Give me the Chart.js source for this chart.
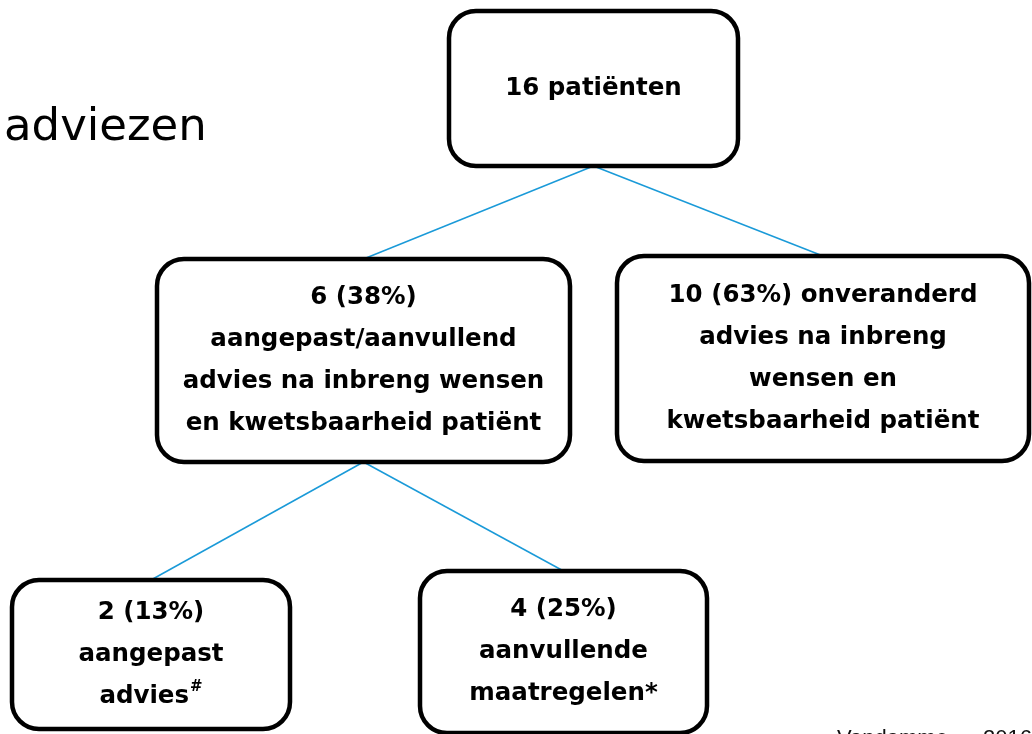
<!DOCTYPE html>
<html>
<head>
<meta charset="utf-8">
<script src="https://cdn.jsdelivr.net/npm/chart.js@4.4.0/dist/chart.umd.min.js"></script>
<style>
  html, body { margin: 0; padding: 0; background: #fff; overflow: hidden; }
  canvas { display: block; }
</style>
</head>
<body>
<canvas id="flowChart" width="1032" height="734"></canvas>
<script>
// flow data: patients per step
const nodeCounts = [16, 6, 10, 2, 4];
const nodeShares = [null, 38, 63, 13, 25];
const nodeHeadSuffix = ['patiënten', '', 'onveranderd', '', ''];
const nodeCaptions = [
  [],
  ['aangepast/aanvullend', 'advies na inbreng wensen', 'en kwetsbaarheid patiënt'],
  ['advies na inbreng', 'wensen en', 'kwetsbaarheid patiënt'],
  ['aangepast', 'advies^#'],
  ['aanvullende', 'maatregelen*']
];
const parentOf = [null, 0, 0, 1, 1];

const titleText = 'adviezen';
const sourceName = 'Vandamme';
const sourceYear = '2016';

// layout in page units (x0, y0, x1, y1)
const boxLayout = [
  [449, 11, 738, 166],
  [157, 259, 570, 462],
  [617, 256, 1029, 461],
  [12, 580, 290, 729],
  [420, 571, 707, 733]
];
const lineHeight = 42;
const lineColor = '#1a9ad8';
const boxFont = 'bold 24.5px "DejaVu Sans"';
const supFont = 'bold 15px "DejaVu Sans"';

function headLine(i) {
  let s = String(nodeCounts[i]);
  if (nodeShares[i] !== null) s += ' (' + nodeShares[i] + '%)';
  if (nodeHeadSuffix[i]) s += ' ' + nodeHeadSuffix[i];
  return s;
}

// connectors: parent bottom-centre to child top-centre
const connectors = [];
parentOf.forEach((p, i) => {
  if (p === null) return;
  const pb = boxLayout[p], cb = boxLayout[i];
  connectors.push({
    label: headLine(p) + ' -> ' + headLine(i),
    data: [
      { x: (pb[0] + pb[2]) / 2, y: pb[3] },
      { x: (cb[0] + cb[2]) / 2, y: cb[1] }
    ],
    showLine: true,
    borderColor: lineColor,
    borderWidth: 1.5,
    pointRadius: 0,
    fill: false
  });
});

function roundRect(ctx, x0, y0, x1, y1, r) {
  ctx.beginPath();
  ctx.moveTo(x0 + r, y0);
  ctx.lineTo(x1 - r, y0);
  ctx.arcTo(x1, y0, x1, y0 + r, r);
  ctx.lineTo(x1, y1 - r);
  ctx.arcTo(x1, y1, x1 - r, y1, r);
  ctx.lineTo(x0 + r, y1);
  ctx.arcTo(x0, y1, x0, y1 - r, r);
  ctx.lineTo(x0, y0 + r);
  ctx.arcTo(x0, y0, x0 + r, y0, r);
  ctx.closePath();
}

const boxesPlugin = {
  id: 'boxes',
  afterDatasetsDraw(chart) {
    const ctx = chart.ctx;
    const xs = chart.scales.x, ys = chart.scales.y;
    ctx.save();

    // title, partly off the left edge
    ctx.fillStyle = '#000';
    ctx.font = '45px "DejaVu Sans"';
    ctx.textAlign = 'left';
    ctx.textBaseline = 'alphabetic';
    ctx.fillText(titleText, xs.getPixelForValue(4), ys.getPixelForValue(140));

    boxLayout.forEach((b, i) => {
      const x0 = xs.getPixelForValue(b[0]), x1 = xs.getPixelForValue(b[2]);
      const y0 = ys.getPixelForValue(b[1]), y1 = ys.getPixelForValue(b[3]);
      roundRect(ctx, x0, y0, x1, y1, 27);
      ctx.fillStyle = '#fff';
      ctx.fill();
      ctx.lineWidth = 4.5;
      ctx.strokeStyle = '#000';
      ctx.stroke();

      const lines = [headLine(i)].concat(nodeCaptions[i]);
      const cx = (x0 + x1) / 2;
      const cy = (y0 + y1) / 2;
      const top = cy - (lines.length - 1) * lineHeight / 2;
      ctx.fillStyle = '#000';
      ctx.textBaseline = 'middle';
      lines.forEach((ln, k) => {
        const y = top + k * lineHeight;
        const parts = ln.split('^');
        ctx.font = boxFont;
        if (parts.length === 1) {
          ctx.textAlign = 'center';
          ctx.fillText(ln, cx, y);
        } else {
          const w1 = ctx.measureText(parts[0]).width;
          ctx.font = supFont;
          const w2 = ctx.measureText(parts[1]).width;
          const sx = cx - (w1 + w2 + 1) / 2;
          ctx.textAlign = 'left';
          ctx.font = boxFont;
          ctx.fillText(parts[0], sx, y);
          ctx.font = supFont;
          ctx.fillText(parts[1], sx + w1 + 1, y - 9);
        }
      });
    });

    // source, cut off by the bottom edge
    ctx.font = '22px "Liberation Sans"';
    ctx.textAlign = 'left';
    ctx.textBaseline = 'alphabetic';
    ctx.fillStyle = '#111';
    ctx.fillText(sourceName, xs.getPixelForValue(837), ys.getPixelForValue(745));
    ctx.fillText(sourceYear, xs.getPixelForValue(983), ys.getPixelForValue(745));
    ctx.restore();
  }
};

new Chart(document.getElementById('flowChart').getContext('2d'), {
  type: 'scatter',
  data: { datasets: connectors },
  options: {
    responsive: false,
    animation: false,
    layout: { padding: 0 },
    plugins: {
      legend: { display: false },
      tooltip: { enabled: false },
      title: { display: false }
    },
    scales: {
      x: { type: 'linear', min: 0, max: 1032, display: false },
      y: { type: 'linear', min: 0, max: 734, reverse: true, display: false }
    }
  },
  plugins: [boxesPlugin]
});
</script>
</body>
</html>
